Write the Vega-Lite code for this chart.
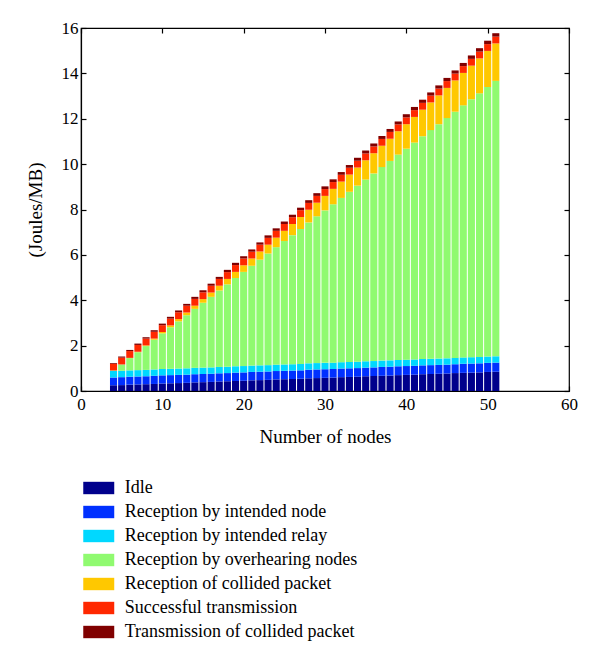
{
  "$schema": "https://vega.github.io/schema/vega-lite/v6.json",
  "width": 488,
  "height": 363,
  "autosize": "none",
  "padding": {"left": 81, "top": 28, "right": 31, "bottom": 278},
  "background": "white",
  "config": {
    "font": "Liberation Serif",
    "view": {"stroke": "black", "strokeWidth": 1.2},
    "axis": {
      "grid": false,
      "domainColor": "black",
      "domainWidth": 1.2,
      "tickColor": "black",
      "tickWidth": 1.2,
      "tickSize": -5,
      "labelFont": "Liberation Serif",
      "labelFontSize": 17,
      "labelColor": "black",
      "titleFont": "Liberation Serif",
      "titleFontSize": 19,
      "titleFontWeight": "normal",
      "titleColor": "black"
    }
  },
  "data": {
    "values": [
      {"n": 4, "c1": 0.25, "c2": 0.35, "c3": 0.28, "c4": 0.02, "c5": 0.00, "c6": 0.30, "c7": 0.03},
      {"n": 5, "c1": 0.26, "c2": 0.35, "c3": 0.28, "c4": 0.28, "c5": 0.00, "c6": 0.30, "c7": 0.05},
      {"n": 6, "c1": 0.28, "c2": 0.35, "c3": 0.28, "c4": 0.54, "c5": 0.01, "c6": 0.30, "c7": 0.05},
      {"n": 7, "c1": 0.29, "c2": 0.35, "c3": 0.28, "c4": 0.79, "c5": 0.02, "c6": 0.30, "c7": 0.06},
      {"n": 8, "c1": 0.30, "c2": 0.35, "c3": 0.28, "c4": 1.05, "c5": 0.03, "c6": 0.30, "c7": 0.06},
      {"n": 9, "c1": 0.31, "c2": 0.36, "c3": 0.28, "c4": 1.31, "c5": 0.05, "c6": 0.30, "c7": 0.07},
      {"n": 10, "c1": 0.33, "c2": 0.36, "c3": 0.28, "c4": 1.57, "c5": 0.06, "c6": 0.30, "c7": 0.07},
      {"n": 11, "c1": 0.34, "c2": 0.36, "c3": 0.28, "c4": 1.83, "c5": 0.08, "c6": 0.30, "c7": 0.08},
      {"n": 12, "c1": 0.35, "c2": 0.36, "c3": 0.28, "c4": 2.08, "c5": 0.10, "c6": 0.30, "c7": 0.08},
      {"n": 13, "c1": 0.36, "c2": 0.36, "c3": 0.28, "c4": 2.34, "c5": 0.12, "c6": 0.30, "c7": 0.08},
      {"n": 14, "c1": 0.38, "c2": 0.36, "c3": 0.28, "c4": 2.60, "c5": 0.14, "c6": 0.30, "c7": 0.09},
      {"n": 15, "c1": 0.39, "c2": 0.36, "c3": 0.28, "c4": 2.86, "c5": 0.16, "c6": 0.30, "c7": 0.09},
      {"n": 16, "c1": 0.40, "c2": 0.36, "c3": 0.28, "c4": 3.11, "c5": 0.19, "c6": 0.30, "c7": 0.09},
      {"n": 17, "c1": 0.42, "c2": 0.36, "c3": 0.28, "c4": 3.37, "c5": 0.21, "c6": 0.30, "c7": 0.09},
      {"n": 18, "c1": 0.43, "c2": 0.36, "c3": 0.28, "c4": 3.63, "c5": 0.24, "c6": 0.30, "c7": 0.10},
      {"n": 19, "c1": 0.44, "c2": 0.37, "c3": 0.28, "c4": 3.89, "c5": 0.27, "c6": 0.30, "c7": 0.10},
      {"n": 20, "c1": 0.45, "c2": 0.37, "c3": 0.28, "c4": 4.15, "c5": 0.29, "c6": 0.30, "c7": 0.10},
      {"n": 21, "c1": 0.47, "c2": 0.37, "c3": 0.28, "c4": 4.40, "c5": 0.32, "c6": 0.30, "c7": 0.10},
      {"n": 22, "c1": 0.48, "c2": 0.37, "c3": 0.28, "c4": 4.66, "c5": 0.36, "c6": 0.30, "c7": 0.10},
      {"n": 23, "c1": 0.49, "c2": 0.37, "c3": 0.28, "c4": 4.92, "c5": 0.39, "c6": 0.30, "c7": 0.11},
      {"n": 24, "c1": 0.51, "c2": 0.37, "c3": 0.28, "c4": 5.18, "c5": 0.42, "c6": 0.30, "c7": 0.11},
      {"n": 25, "c1": 0.52, "c2": 0.37, "c3": 0.28, "c4": 5.44, "c5": 0.45, "c6": 0.30, "c7": 0.11},
      {"n": 26, "c1": 0.53, "c2": 0.37, "c3": 0.28, "c4": 5.69, "c5": 0.49, "c6": 0.30, "c7": 0.11},
      {"n": 27, "c1": 0.54, "c2": 0.37, "c3": 0.28, "c4": 5.95, "c5": 0.53, "c6": 0.30, "c7": 0.11},
      {"n": 28, "c1": 0.56, "c2": 0.38, "c3": 0.28, "c4": 6.21, "c5": 0.56, "c6": 0.30, "c7": 0.12},
      {"n": 29, "c1": 0.57, "c2": 0.38, "c3": 0.28, "c4": 6.47, "c5": 0.60, "c6": 0.30, "c7": 0.12},
      {"n": 30, "c1": 0.58, "c2": 0.38, "c3": 0.28, "c4": 6.72, "c5": 0.64, "c6": 0.30, "c7": 0.12},
      {"n": 31, "c1": 0.59, "c2": 0.38, "c3": 0.28, "c4": 6.98, "c5": 0.68, "c6": 0.30, "c7": 0.12},
      {"n": 32, "c1": 0.61, "c2": 0.38, "c3": 0.28, "c4": 7.24, "c5": 0.72, "c6": 0.30, "c7": 0.12},
      {"n": 33, "c1": 0.62, "c2": 0.38, "c3": 0.28, "c4": 7.50, "c5": 0.76, "c6": 0.30, "c7": 0.12},
      {"n": 34, "c1": 0.63, "c2": 0.38, "c3": 0.28, "c4": 7.76, "c5": 0.80, "c6": 0.30, "c7": 0.13},
      {"n": 35, "c1": 0.65, "c2": 0.38, "c3": 0.28, "c4": 8.01, "c5": 0.85, "c6": 0.30, "c7": 0.13},
      {"n": 36, "c1": 0.66, "c2": 0.38, "c3": 0.28, "c4": 8.27, "c5": 0.89, "c6": 0.30, "c7": 0.13},
      {"n": 37, "c1": 0.67, "c2": 0.39, "c3": 0.28, "c4": 8.53, "c5": 0.94, "c6": 0.30, "c7": 0.13},
      {"n": 38, "c1": 0.68, "c2": 0.39, "c3": 0.28, "c4": 8.79, "c5": 0.98, "c6": 0.30, "c7": 0.13},
      {"n": 39, "c1": 0.70, "c2": 0.39, "c3": 0.28, "c4": 9.05, "c5": 1.03, "c6": 0.30, "c7": 0.13},
      {"n": 40, "c1": 0.71, "c2": 0.39, "c3": 0.28, "c4": 9.30, "c5": 1.08, "c6": 0.30, "c7": 0.14},
      {"n": 41, "c1": 0.72, "c2": 0.39, "c3": 0.28, "c4": 9.56, "c5": 1.13, "c6": 0.30, "c7": 0.14},
      {"n": 42, "c1": 0.74, "c2": 0.39, "c3": 0.28, "c4": 9.82, "c5": 1.17, "c6": 0.30, "c7": 0.14},
      {"n": 43, "c1": 0.75, "c2": 0.39, "c3": 0.28, "c4": 10.08, "c5": 1.22, "c6": 0.30, "c7": 0.14},
      {"n": 44, "c1": 0.76, "c2": 0.39, "c3": 0.28, "c4": 10.33, "c5": 1.27, "c6": 0.30, "c7": 0.14},
      {"n": 45, "c1": 0.77, "c2": 0.39, "c3": 0.28, "c4": 10.59, "c5": 1.33, "c6": 0.30, "c7": 0.14},
      {"n": 46, "c1": 0.79, "c2": 0.39, "c3": 0.28, "c4": 10.85, "c5": 1.38, "c6": 0.30, "c7": 0.14},
      {"n": 47, "c1": 0.80, "c2": 0.40, "c3": 0.28, "c4": 11.11, "c5": 1.43, "c6": 0.30, "c7": 0.14},
      {"n": 48, "c1": 0.81, "c2": 0.40, "c3": 0.28, "c4": 11.37, "c5": 1.48, "c6": 0.30, "c7": 0.15},
      {"n": 49, "c1": 0.82, "c2": 0.40, "c3": 0.28, "c4": 11.62, "c5": 1.54, "c6": 0.30, "c7": 0.15},
      {"n": 50, "c1": 0.84, "c2": 0.40, "c3": 0.28, "c4": 11.88, "c5": 1.59, "c6": 0.30, "c7": 0.15},
      {"n": 51, "c1": 0.85, "c2": 0.40, "c3": 0.28, "c4": 12.14, "c5": 1.65, "c6": 0.30, "c7": 0.15}
    ]
  },
  "transform": [
    {"fold": ["c1", "c2", "c3", "c4", "c5", "c6", "c7"], "as": ["component", "value"]}
  ],
  "layer": [
    {
      "mark": {"type": "bar", "width": 7.1},
      "encoding": {
        "x": {
          "field": "n",
          "type": "quantitative",
          "scale": {"domain": [0, 60], "nice": false, "zero": false, "padding": 0},
          "axis": {"values": [0, 10, 20, 30, 40, 50, 60], "title": "Number of nodes", "labelPadding": 10, "titlePadding": 15, "labelFlush": false}
        },
        "y": {
          "field": "value",
          "type": "quantitative",
          "stack": "zero",
          "scale": {"domain": [0, 16], "nice": false},
          "axis": {"values": [0, 2, 4, 6, 8, 10, 12, 14, 16], "title": "(Joules/MB)", "labelPadding": 8, "titlePadding": 16, "labelFlush": false}
        },
        "color": {
          "field": "component",
          "type": "nominal",
          "sort": ["c1", "c2", "c3", "c4", "c5", "c6", "c7"],
          "scale": {
            "domain": ["c1", "c2", "c3", "c4", "c5", "c6", "c7"],
            "range": ["#00008C", "#0030FF", "#00D8FF", "#90FA70", "#FFC800", "#FF2800", "#800000"]
          },
          "legend": {
            "orient": "none",
            "legendX": 8.75,
            "legendY": 451,
            "title": null,
            "padding": 0,
            "symbolType": "M-2,-0.8H2V0.8H-2Z",
            "symbolSize": 240,
            "symbolStrokeWidth": 0,
            "labelFont": "Liberation Serif",
            "labelFontSize": 18,
            "labelColor": "black",
            "labelLimit": 400,
            "labelOffset": 17,
            "rowPadding": 6,
            "labelExpr": "datum.value == 'c1' ? 'Idle' : datum.value == 'c2' ? 'Reception by intended node' : datum.value == 'c3' ? 'Reception by intended relay' : datum.value == 'c4' ? 'Reception by overhearing nodes' : datum.value == 'c5' ? 'Reception of collided packet' : datum.value == 'c6' ? 'Successful transmission' : 'Transmission of collided packet'"
          }
        },
        "order": {"field": "component", "sort": "ascending"}
      }
    },
    {
      "mark": {"type": "point", "opacity": 0},
      "encoding": {
        "x": {
          "field": "n",
          "type": "quantitative",
          "axis": {"orient": "top", "values": [0, 10, 20, 30, 40, 50, 60], "labels": false, "domain": false, "title": null}
        },
        "y": {
          "field": "value",
          "type": "quantitative",
          "axis": {"orient": "right", "values": [0, 2, 4, 6, 8, 10, 12, 14, 16], "labels": false, "domain": false, "title": null}
        }
      }
    }
  ],
  "resolve": {"axis": {"x": "independent", "y": "independent"}}
}
